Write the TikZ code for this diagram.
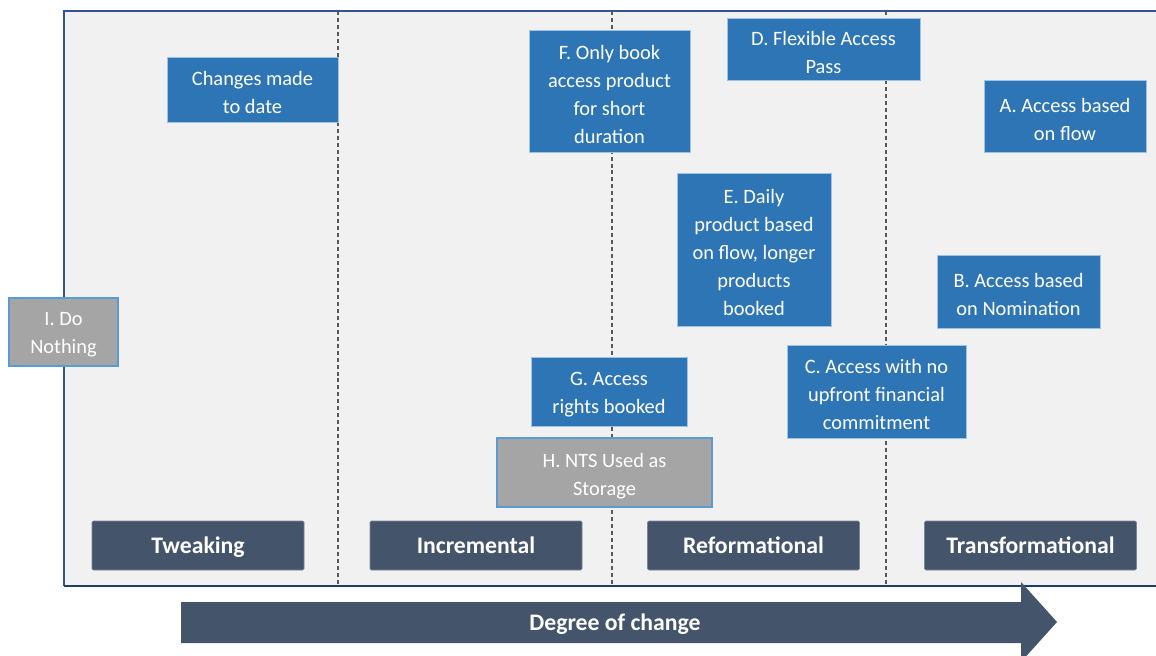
\documentclass[tikz,border=0pt]{standalone}
\usepackage{fontspec}
\setmainfont{Carlito}
\begin{document}
\definecolor{boxblue}{HTML}{2E75B6}
\definecolor{boxedge}{HTML}{9DC3E6}
\definecolor{greyfill}{HTML}{A5A5A5}
\definecolor{greyedge}{HTML}{5B9BD5}
\definecolor{slate}{HTML}{44546A}
\definecolor{panel}{HTML}{F1F1F1}
\definecolor{frameline}{HTML}{2F5597}
\definecolor{divider}{HTML}{595959}
% #1 style, #2 name, #3 centre, #4 width, #5 height, #6 text
\newcommand\optionbox[6]{%
  \node[#1, minimum width=#4, minimum height=#5] (#2) at #3 {};
  \node[boxtext, text=\ifx#1greybox panel\else white\fi] (#2-text) at ([yshift=-2.4pt]#2.center) {#6};}
\begin{tikzpicture}[x=0.75pt,y=-0.75pt,
  box/.style={rectangle, inner sep=0pt, line width=0.6pt},
  boxtext/.style={inner sep=0pt, align=center, font=\fontsize{15.3}{21}\selectfont},
  bluebox/.style={box, fill=boxblue, draw=boxedge},
  greybox/.style={box, fill=greyfill, draw=greyedge, line width=0.9pt},
  stage/.style={rectangle, inner sep=0pt, fill=slate, draw=slate!70, line width=0.4pt,
    rounded corners=1pt, text=white, minimum width=159pt, minimum height=36.75pt,
    text height=14pt, text depth=2pt,
    font=\fontsize{17.8}{20}\selectfont\bfseries},
  divline/.style={draw=divider, line width=1.1pt, dash pattern=on 3pt off 2.2pt}]
\useasboundingbox (0,0) rectangle (1156,656);
\begin{scope}
\clip (0,0) rectangle (1156,656);
% panel and frame
\fill[panel] (64,11) rectangle (1160,586);
\draw[frameline, line width=1pt] (1160,11) -- (64,11) -- (64,586);
\draw[frameline!70!black, line width=1.2pt] (64,586) -- (1160,586);
% stage dividers
\coordinate (d1t) at (338,11); \coordinate (d1b) at (338,586);
\coordinate (d2t) at (612,11); \coordinate (d2b) at (612,586);
\coordinate (d3t) at (886,11); \coordinate (d3b) at (886,586);
\draw[divline] (d1t) -- (d1b);
\draw[divline] (d2t) -- (d2b);
\draw[divline] (d3t) -- (d3b);
% options
\optionbox{bluebox}{chg}{(252.5,89.5)}{128.25pt}{48.75pt}{Changes made\\to date}
\optionbox{greybox}{optI}{(63.5,332)}{81.75pt}{51pt}{I. Do\\Nothing}
\optionbox{bluebox}{optF}{(609.5,91)}{120.75pt}{91.5pt}{F. Only book\\access product\\for short\\duration}
\optionbox{bluebox}{optD}{(823.5,49)}{144.75pt}{46.5pt}{D. Flexible Access\\Pass}
\optionbox{bluebox}{optA}{(1065,116)}{121.5pt}{54pt}{A. Access based\\on flow}
\optionbox{bluebox}{optE}{(754,249.5)}{115.5pt}{114.75pt}{E. Daily\\product based\\on flow, longer\\products\\booked}
\optionbox{bluebox}{optB}{(1018.5,291.5)}{122.25pt}{54.75pt}{B. Access based\\on Nomination}
\optionbox{bluebox}{optC}{(876.5,391.5)}{134.25pt}{69.75pt}{C. Access with no\\upfront financial\\commitment}
\optionbox{bluebox}{optG}{(609,391.5)}{117pt}{51.75pt}{G. Access\\rights booked}
\optionbox{greybox}{optH}{(604.5,472.5)}{161.25pt}{51.75pt}{H. NTS Used as\\Storage}
% stage labels
\node[stage] (tweak) at (198,545.5) {Tweaking};
\node[stage] (incr) at (476,545.5) {Incremental};
\node[stage] (reform) at (753.5,545.5) {Reformational};
\node[stage] (transf) at (1030.5,545.5) {Transformational};
% degree of change arrow
\fill[slate] (181,602) -- (1021,602) -- (1021,582) -- (1057,622) -- (1021,662) -- (1021,643) -- (181,643) -- cycle;
\node[text=white, font=\fontsize{17.8}{20}\selectfont\bfseries] (degree) at (615,624) {Degree of change};
\end{scope}
\end{tikzpicture}
\end{document}
